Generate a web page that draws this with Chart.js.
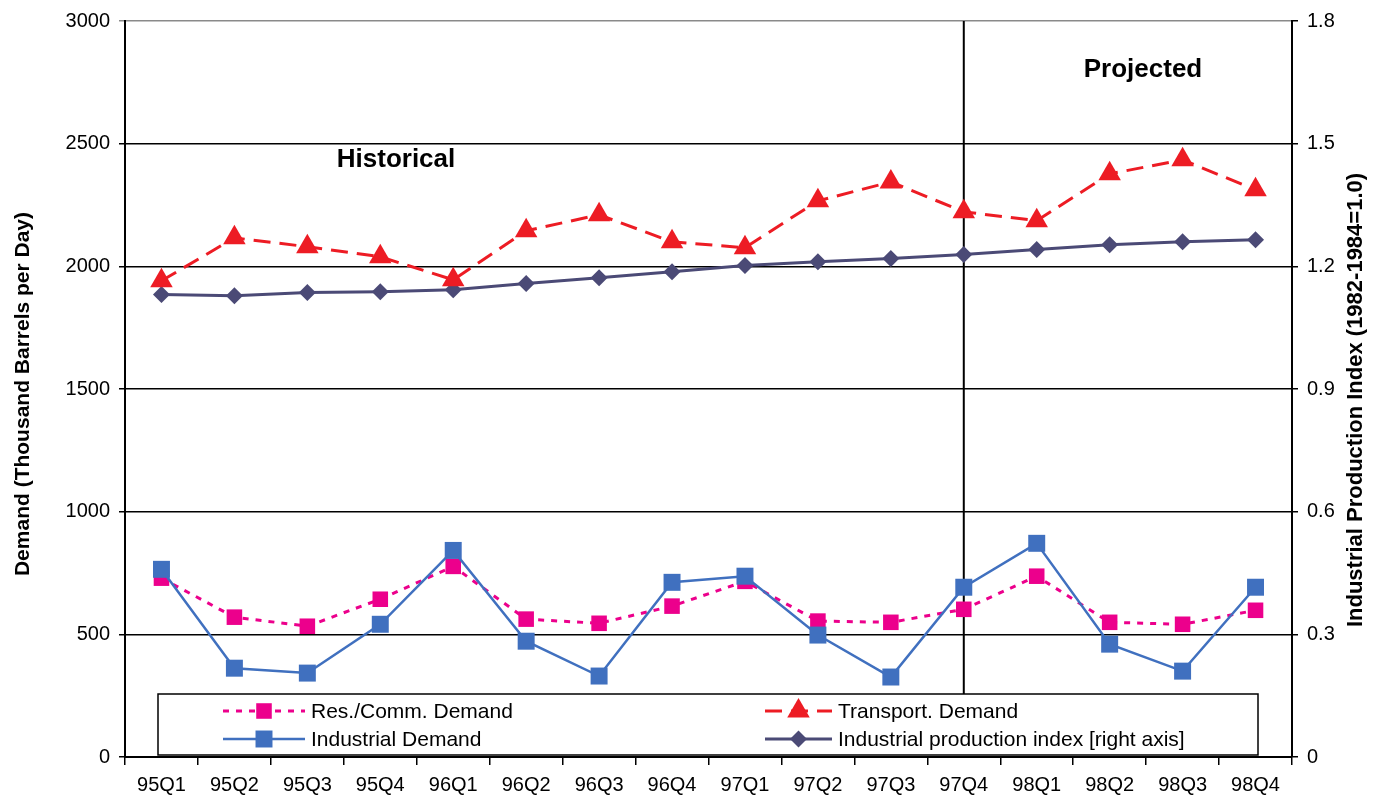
<!DOCTYPE html>
<html>
<head>
<meta charset="utf-8">
<script src="https://cdn.jsdelivr.net/npm/chart.js@4/dist/chart.umd.min.js"></script>
<style>
  html, body { margin: 0; padding: 0; background: #fff; }
  #wrap { width: 1375px; height: 797px; position: relative; }
</style>
</head>
<body>
<div id="wrap"><canvas id="demandChart"></canvas></div>
<script>
const quarters = ['95Q1', '95Q2', '95Q3', '95Q4', '96Q1', '96Q2', '96Q3', '96Q4',
                  '97Q1', '97Q2', '97Q3', '97Q4', '98Q1', '98Q2', '98Q3', '98Q4'];
const resComm = [729, 570, 533, 643, 777, 562, 545, 615, 716, 554, 549, 602, 737, 549, 541, 598];
const transport = [1941, 2116, 2080, 2039, 1945, 2145, 2210, 2100, 2076, 2267, 2344, 2222, 2186, 2377, 2434, 2312];
const industrial = [765, 362, 342, 541, 842, 472, 330, 712, 737, 497, 326, 692, 871, 460, 350, 692];
const prodIndex = [1.131, 1.128, 1.136, 1.138, 1.143, 1.158, 1.172, 1.187, 1.202, 1.211, 1.219, 1.229, 1.241, 1.253, 1.260, 1.265];
const splitQuarter = '97Q4';

const FONT = '"Liberation Sans", Arial, sans-serif';
const PINK = '#EC008C', RED = '#ED1C24', BLUE = '#4070BF', SLATE = '#4B4A76';

// vertical divider + period labels + axis titles + boxed legend
const decorations = {
    id: 'decorations',
    beforeDatasetsDraw(chart) {
        const { ctx, chartArea, scales } = chart;
        const x = scales.x.getPixelForValue(quarters.indexOf(splitQuarter));
        ctx.save();
        ctx.strokeStyle = '#000';
        ctx.lineWidth = 2;
        ctx.beginPath();
        ctx.moveTo(x, chartArea.top);
        ctx.lineTo(x, 694);
        ctx.stroke();
        ctx.restore();
    },
    afterDatasetsDraw(chart) {
        const { ctx } = chart;
        const dpr = chart.currentDevicePixelRatio;
        ctx.save();
        ctx.fillStyle = '#000';
        ctx.font = 'bold 26px ' + FONT;
        ctx.textAlign = 'center';
        ctx.textBaseline = 'alphabetic';
        ctx.fillText('Historical', 396, 167);
        ctx.fillText('Projected', 1143, 77);

        // axis titles, both read bottom-to-top
        ctx.textBaseline = 'middle';
        ctx.font = 'bold 21px ' + FONT;
        ctx.translate(23, 394);
        ctx.rotate(-Math.PI / 2);
        ctx.fillText('Demand (Thousand Barrels per Day)', 0, 0);
        ctx.setTransform(dpr, 0, 0, dpr, 0, 0);
        ctx.font = 'bold 22px ' + FONT;
        ctx.translate(1356, 400);
        ctx.rotate(-Math.PI / 2);
        ctx.fillText('Industrial Production Index (1982-1984=1.0)', 0, 0);
        ctx.restore();

        // legend box
        ctx.save();
        ctx.fillStyle = '#fff';
        ctx.strokeStyle = '#000';
        ctx.lineWidth = 1.5;
        ctx.fillRect(158, 694, 1100, 61);
        ctx.strokeRect(158, 694, 1100, 61);
        const entries = [
            { ds: 0, x1: 223, x2: 305, y: 711 },
            { ds: 1, x1: 765, x2: 832, y: 711 },
            { ds: 2, x1: 223, x2: 305, y: 739 },
            { ds: 3, x1: 765, x2: 832, y: 739 }
        ];
        ctx.font = '21px ' + FONT;
        ctx.textAlign = 'left';
        ctx.textBaseline = 'middle';
        entries.forEach(e => {
            const d = chart.data.datasets[e.ds];
            ctx.strokeStyle = d.borderColor;
            ctx.lineWidth = d.borderWidth;
            ctx.setLineDash(d.borderDash || []);
            ctx.beginPath();
            ctx.moveTo(e.x1, e.y);
            ctx.lineTo(e.x2, e.y);
            ctx.stroke();
            ctx.setLineDash([]);
            ctx.fillStyle = d.pointBackgroundColor;
            ctx.strokeStyle = d.pointBorderColor;
            Chart.helpers.drawPoint(ctx, {
                pointStyle: d.pointStyle, radius: d.pointRadius, rotation: 0, borderWidth: 0
            }, (e.x1 + e.x2) / 2, e.y);
            ctx.fillStyle = '#000';
            ctx.fillText(d.label, e.x2 + 6, e.y + 1);
        });
        ctx.restore();
    }
};

const ctx = document.getElementById('demandChart').getContext('2d');
new Chart(ctx, {
    type: 'line',
    data: {
        labels: quarters,
        datasets: [
            {
                label: 'Res./Comm. Demand', data: resComm, yAxisID: 'y', order: 1,
                borderColor: PINK, borderWidth: 3, borderDash: [6, 7],
                pointStyle: 'rect', pointRadius: 11,
                pointBackgroundColor: PINK, pointBorderColor: PINK, pointBorderWidth: 0
            },
            {
                label: 'Transport. Demand', data: transport, yAxisID: 'y', order: 2,
                borderColor: RED, borderWidth: 3, borderDash: [17, 9],
                pointStyle: 'triangle', pointRadius: 13,
                pointBackgroundColor: RED, pointBorderColor: RED, pointBorderWidth: 0
            },
            {
                label: 'Industrial Demand', data: industrial, yAxisID: 'y', order: 0,
                borderColor: BLUE, borderWidth: 2.5,
                pointStyle: 'rect', pointRadius: 12,
                pointBackgroundColor: BLUE, pointBorderColor: BLUE, pointBorderWidth: 0
            },
            {
                label: 'Industrial production index [right axis]', data: prodIndex, yAxisID: 'y1', order: 3,
                borderColor: SLATE, borderWidth: 3,
                pointStyle: 'rectRot', pointRadius: 8.5,
                pointBackgroundColor: SLATE, pointBorderColor: SLATE, pointBorderWidth: 0
            }
        ]
    },
    options: {
        responsive: true,
        maintainAspectRatio: false,
        animation: false,
        layout: { padding: { top: 20, left: 0, right: 0, bottom: 0 } },
        plugins: { legend: { display: false }, tooltip: { enabled: false } },
        elements: { line: { tension: 0 } },
        scales: {
            x: {
                offset: true,
                grid: { offset: true, drawOnChartArea: false, drawTicks: true, tickLength: 8, color: '#000', lineWidth: 1.5 },
                border: { color: '#000', width: 2 },
                ticks: { color: '#000', font: { family: FONT, size: 20 }, padding: 8, maxRotation: 0, autoSkip: false },
                afterFit(scale) { scale.height = 40; }
            },
            y: {
                position: 'left', min: 0, max: 3000,
                ticks: { stepSize: 500, color: '#000', font: { family: FONT, size: 20 }, padding: 9,
                         callback: v => String(v) },
                grid: {
                    color: c => (c.tick && c.tick.value === 3000) ? '#8a8a8a' : '#000',
                    lineWidth: 1.5, tickLength: 6
                },
                border: { color: '#000', width: 2 },
                afterFit(scale) { scale.width = 125; }
            },
            y1: {
                position: 'right', min: 0, max: 1.8,
                ticks: { stepSize: 0.3, color: '#000', font: { family: FONT, size: 20 }, padding: 9,
                         callback: v => (v === 0 ? '0' : v.toFixed(1)) },
                grid: { drawOnChartArea: false, tickLength: 6, color: '#000', lineWidth: 1.5 },
                border: { color: '#000', width: 2 },
                afterFit(scale) { scale.width = 83; }
            }
        }
    },
    plugins: [decorations]
});
</script>
</body>
</html>
